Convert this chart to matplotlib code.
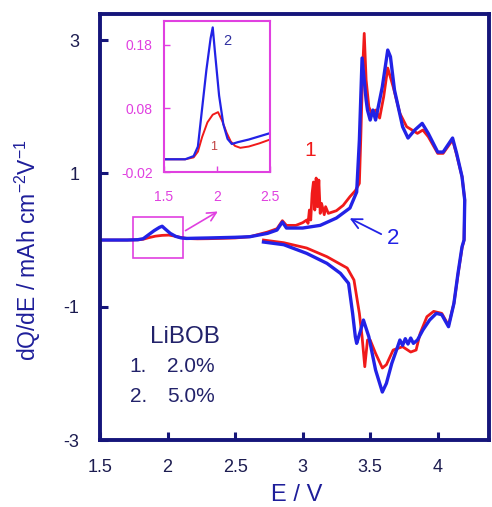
import matplotlib
matplotlib.use("Agg")
import matplotlib.pyplot as plt
from matplotlib.patches import Rectangle

plt.rcParams['font.family'] = ['Liberation Sans', 'DejaVu Sans']
plt.rcParams['axes.unicode_minus'] = False
plt.rcParams['mathtext.fontset'] = 'custom'
plt.rcParams['mathtext.rm'] = 'Liberation Sans'
plt.rcParams['mathtext.it'] = 'Liberation Sans'

# dQ/dE loop, charge branch first then discharge branch back (E in V)
E_2pct = [1.50, 1.70, 1.78, 1.82, 1.86, 1.91, 1.96, 2.01, 2.05, 2.09, 2.13, 2.17, 2.22, 2.30,
          2.40, 2.50, 2.61, 2.74, 2.81, 2.85, 2.88, 2.95, 3.00, 3.03, 3.04, 3.05, 3.06, 3.07,
          3.08, 3.09, 3.10, 3.11, 3.12, 3.13, 3.14, 3.16, 3.17, 3.19, 3.25, 3.30, 3.35, 3.39,
          3.42, 3.43, 3.445, 3.456, 3.47, 3.49, 3.51, 3.54, 3.57, 3.60, 3.63, 3.67, 3.72, 3.77,
          3.85, 3.89, 3.93, 4.00, 4.04, 4.11, 4.14, 4.18, 4.20, 4.195, 4.18, 4.15, 4.12, 4.08,
          4.03, 3.97, 3.92, 3.87, 3.84, 3.80, 3.74, 3.67, 3.62, 3.59, 3.54, 3.50, 3.48, 3.46,
          3.44, 3.42, 3.40, 3.38, 3.33, 3.18, 3.03, 2.86, 2.71]
I_2pct = [0.00, 0.00, 0.003, 0.012, 0.035, 0.058, 0.07, 0.074, 0.06, 0.042, 0.028, 0.021, 0.018, 0.020,
          0.025, 0.031, 0.05, 0.12, 0.17, 0.29, 0.22, 0.22, 0.26, 0.30, 0.25, 0.45, 0.30, 0.70,
          0.87, 0.45, 0.93, 0.50, 0.90, 0.40, 0.55, 0.38, 0.50, 0.40, 0.44, 0.52, 0.65, 0.74,
          0.85, 1.50, 2.60, 3.10, 2.40, 2.00, 1.90, 1.95, 1.83, 2.15, 2.58, 2.30, 1.90, 1.70,
          1.60, 1.65, 1.55, 1.30, 1.30, 1.50, 1.28, 0.95, 0.60, 0.00, -0.12, -0.52, -0.95, -1.28,
          -1.10, -1.07, -1.15, -1.40, -1.65, -1.68, -1.60, -1.65, -1.87, -1.92, -1.70, -1.50, -1.50, -1.90,
          -1.45, -1.10, -0.85, -0.60, -0.42, -0.25, -0.12, -0.04, 0.00]

E_5pct = [1.50, 1.70, 1.78, 1.82, 1.86, 1.90, 1.94, 1.96, 1.98, 2.02, 2.06, 2.10, 2.14, 2.20,
          2.30, 2.40, 2.50, 2.61, 2.74, 2.81, 2.85, 2.88, 3.00, 3.13, 3.25, 3.35, 3.40, 3.42,
          3.44, 3.47, 3.48, 3.50, 3.52, 3.54, 3.59, 3.63, 3.65, 3.68, 3.74, 3.78, 3.83, 3.885,
          3.93, 4.00, 4.04, 4.11, 4.14, 4.18, 4.20, 4.195, 4.18, 4.15, 4.12, 4.08, 4.03, 3.99,
          3.94, 3.89, 3.85, 3.82, 3.80, 3.78, 3.76, 3.74, 3.72, 3.70, 3.66, 3.62, 3.59, 3.54,
          3.49, 3.45, 3.43, 3.40, 3.39, 3.37, 3.34, 3.28, 3.18, 3.03, 2.86, 2.71]
I_5pct = [0.00, 0.00, 0.005, 0.02, 0.08, 0.14, 0.19, 0.207, 0.17, 0.10, 0.055, 0.032, 0.024, 0.027,
          0.031, 0.036, 0.041, 0.05, 0.10, 0.15, 0.27, 0.18, 0.18, 0.22, 0.33, 0.48, 0.72, 1.50,
          2.73, 2.10, 1.95, 1.80, 1.95, 1.80, 2.30, 2.85, 2.75, 2.25, 1.70, 1.53, 1.65, 1.75,
          1.60, 1.32, 1.32, 1.53, 1.30, 0.95, 0.60, 0.00, -0.10, -0.50, -0.95, -1.30, -1.12, -1.10,
          -1.20, -1.35, -1.50, -1.55, -1.47, -1.56, -1.48, -1.58, -1.50, -1.62, -1.85, -2.15, -2.28, -1.95,
          -1.45, -1.20, -1.35, -1.55, -1.45, -1.10, -0.65, -0.50, -0.35, -0.20, -0.07, -0.03]

xticks = [1.5, 2, 2.5, 3, 3.5, 4]
xtick_labels = ['1.5', '2', '2.5', '3', '3.5', '4']
yticks = [-3, -1, 1, 3]
inset_xticks = [1.5, 2, 2.5]
inset_yticks = [-0.02, 0.08, 0.18]

red = '#f01a1a'
blue = '#2222e6'
navy = '#15157a'
magenta = '#e040e0'
textnavy = '#22226a'

fig = plt.figure(figsize=(4.92, 5.07), dpi=100)
ax = fig.add_axes([0.2033, 0.1321, 0.7907, 0.8402])

ax.plot(E_2pct, I_2pct, color=red, lw=2.0, solid_joinstyle='round')
ax.plot(E_5pct, I_5pct, color=blue, lw=2.4, solid_joinstyle='round')

ax.set_xlim(1.5, 4.38)
ax.set_ylim(-3, 3.39)
ax.set_xticks(xticks)
ax.set_xticklabels(xtick_labels)
ax.set_yticks(yticks)
ax.tick_params(direction='in', length=6, width=2.2, color=navy, labelcolor='#1c1c50',
               labelsize=13)
ax.tick_params(axis='x', pad=14)
ax.tick_params(axis='y', pad=15)
for s in ax.spines.values():
    s.set_color(navy)
    s.set_linewidth(2.8)

fig.text(28 / 492, 1 - 250 / 507, 'dQ/dE / mAh cm$^{-2}$V$^{-1}$', rotation=90,
         ha='center', va='center', fontsize=16.5, color='#1e1e9a')
fig.text(297 / 492, 1 / 507, 'E / V', ha='center', va='bottom', fontsize=17, color='#1e1e9a')

# legend-like text block
ax.text(2.13, -1.455, 'LiBOB', ha='center', va='center', fontsize=17.5, color=textnavy)
ax.text(1.72, -1.90, '1.', ha='left', va='center', fontsize=15, color=textnavy)
ax.text(1.996, -1.90, '2.0%', ha='left', va='center', fontsize=15, color=textnavy)
ax.text(1.72, -2.34, '2.', ha='left', va='center', fontsize=15, color=textnavy)
ax.text(1.996, -2.34, '5.0%', ha='left', va='center', fontsize=15, color=textnavy)

ax.text(3.056, 1.35, '1', ha='center', va='center', fontsize=15, color=red)
ax.annotate('', xy=(3.33, 0.345), xytext=(3.6, 0.07),
            arrowprops=dict(arrowstyle='->', color=blue, lw=1.3, mutation_scale=18))
ax.text(3.67, 0.03, '2', ha='center', va='center', fontsize=16, color=blue)

# zoom box + arrow to inset
ax.add_patch(Rectangle((1.744, -0.27), 0.371, 0.615, fill=False, edgecolor=magenta, lw=1.2))
ax.annotate('', xy=(2.39, 0.45), xytext=(2.115, 0.12),
            arrowprops=dict(arrowstyle='->', color=magenta, lw=1.2, mutation_scale=16))

# inset
ins = fig.add_axes([0.3333, 0.6607, 0.2154, 0.2978])
ins.plot(E_2pct, I_2pct, color=red, lw=1.4)
ins.plot(E_5pct, I_5pct, color=blue, lw=1.6)
ins.set_xlim(1.5, 2.5)
ins.set_ylim(-0.02, 0.217)
ins.set_xticks(inset_xticks)
ins.set_xticklabels(['1.5', '2', '2.5'])
ins.set_yticks(inset_yticks)
ins.set_yticklabels(['-0.02', '0.08', '0.18'])
ins.tick_params(direction='in', length=4, width=1, color=magenta, labelcolor=magenta,
                labelsize=10)
ins.tick_params(axis='x', pad=13)
ins.tick_params(axis='y', pad=8)
for s in ins.spines.values():
    s.set_color(magenta)
    s.set_linewidth(1.5)
ins.text(2.1, 0.186, '2', ha='center', va='center', fontsize=10.5, color='#3030a0')
ins.text(1.97, 0.019, '1', ha='center', va='center', fontsize=9, color='#c04040')

plt.savefig('out.png', dpi=100)
